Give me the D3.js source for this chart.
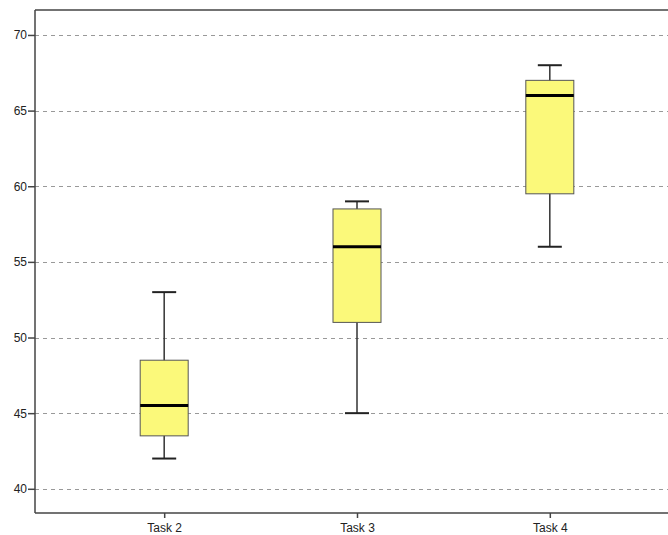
<!DOCTYPE html>
<html>
<head>
<meta charset="utf-8">
<script src="https://cdn.jsdelivr.net/npm/d3@7"></script>
<style>
  body { margin: 0; background: #fff; }
  svg { display: block; font-family: "Liberation Sans", Arial, sans-serif; }
</style>
</head>
<body>
<div id="chart"></div>
<script>
  var tasks = ["Task 2", "Task 3", "Task 4"];
  var whiskerLow = [42, 45, 56];
  var q1 = [43.5, 51, 59.5];
  var median = [45.5, 56, 66];
  var q3 = [48.5, 58.5, 67];
  var whiskerHigh = [53, 59, 68];
  var yTicks = [40, 45, 50, 55, 60, 65, 70];

  var width = 668, height = 535;
  var plotLeft = 35, plotTop = 10, plotBottom = 513, plotRight = 679;

  var svg = d3.select("#chart").append("svg")
    .attr("width", width)
    .attr("height", height);

  var x = d3.scalePoint().domain(tasks).range([plotLeft, plotRight]).padding(0.67);
  var y = d3.scaleLinear().domain([38.4, 71.65]).range([plotBottom, plotTop]);

  // grid lines
  svg.append("g").selectAll("line")
    .data(yTicks)
    .enter().append("line")
    .attr("x1", plotLeft).attr("x2", plotRight)
    .attr("y1", function (d) { return Math.round(y(d)) + 0.5; })
    .attr("y2", function (d) { return Math.round(y(d)) + 0.5; })
    .attr("stroke", "#999")
    .attr("stroke-dasharray", "4,4");

  var boxW = 48, capW = 24;
  var data = tasks.map(function (t, i) {
    return {task: t, lo: whiskerLow[i], q1: q1[i], med: median[i], q3: q3[i], hi: whiskerHigh[i]};
  });

  var g = svg.append("g").selectAll("g")
    .data(data)
    .enter().append("g")
    .attr("transform", function (d) { return "translate(" + x(d.task) + ",0)"; });

  // whisker stems
  g.append("line")
    .attr("x1", 0).attr("x2", 0)
    .attr("y1", function (d) { return y(d.hi); })
    .attr("y2", function (d) { return y(d.lo); })
    .attr("stroke", "#333").attr("stroke-width", 1.5);

  // caps
  g.append("line")
    .attr("x1", -capW / 2).attr("x2", capW / 2)
    .attr("y1", function (d) { return y(d.hi); })
    .attr("y2", function (d) { return y(d.hi); })
    .attr("stroke", "#222").attr("stroke-width", 2);
  g.append("line")
    .attr("x1", -capW / 2).attr("x2", capW / 2)
    .attr("y1", function (d) { return y(d.lo); })
    .attr("y2", function (d) { return y(d.lo); })
    .attr("stroke", "#222").attr("stroke-width", 2);

  // boxes
  g.append("rect")
    .attr("x", -boxW / 2)
    .attr("width", boxW)
    .attr("y", function (d) { return y(d.q3); })
    .attr("height", function (d) { return y(d.q1) - y(d.q3); })
    .attr("fill", "#fbf97a")
    .attr("stroke", "#555")
    .attr("stroke-width", 1);

  // medians
  g.append("line")
    .attr("x1", -boxW / 2).attr("x2", boxW / 2)
    .attr("y1", function (d) { return y(d.med); })
    .attr("y2", function (d) { return y(d.med); })
    .attr("stroke", "#000").attr("stroke-width", 3);

  // frame
  svg.append("line")
    .attr("x1", plotLeft).attr("x2", plotRight)
    .attr("y1", plotTop).attr("y2", plotTop)
    .attr("stroke", "#444").attr("stroke-width", 1.5);

  // axes
  var yAxis = svg.append("g")
    .attr("transform", "translate(" + plotLeft + ",0)")
    .call(d3.axisLeft(y).tickValues(yTicks).tickSize(7).tickPadding(1));
  yAxis.select(".domain").attr("stroke", "#444").attr("stroke-width", 1.5)
    .attr("d", "M0," + plotTop + "V" + plotBottom);

  var xAxis = svg.append("g")
    .attr("transform", "translate(0," + plotBottom + ")")
    .call(d3.axisBottom(x).tickSize(5).tickPadding(5));
  xAxis.select(".domain").attr("stroke", "#444").attr("stroke-width", 1.5)
    .attr("d", "M" + plotLeft + ",0H" + plotRight);

  svg.selectAll(".tick line").attr("stroke", "#444").attr("stroke-width", 1.5);
  svg.selectAll(".tick text")
    .attr("fill", "#222")
    .style("font-size", "12px")
    .style("font-family", "Liberation Sans, Arial, sans-serif");
</script>
</body>
</html>
